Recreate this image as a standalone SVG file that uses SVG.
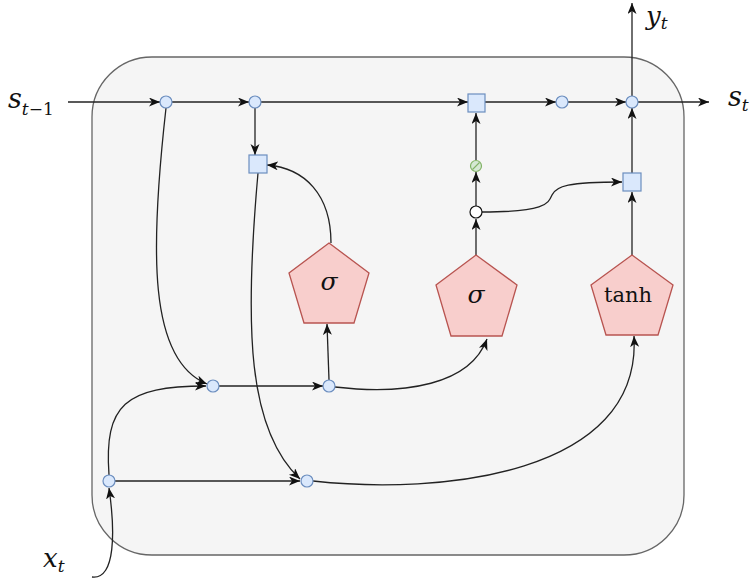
<svg xmlns="http://www.w3.org/2000/svg" width="753" height="581" viewBox="0 0 753 581">
  <defs>
    <marker id="arrow" markerUnits="userSpaceOnUse" markerWidth="13" markerHeight="11" refX="11" refY="4.5" orient="auto">
      <path d="M0,0 L11,4.5 L0,9 L3,4.5 z" fill="#111"/>
    </marker>
    <style>
      .cell { fill: #f5f5f5; stroke: #666; stroke-width: 1.3; }
      .dot { fill: #dae8fc; stroke: #6c8ebf; stroke-width: 1.2; }
      .sq { fill: #dae8fc; stroke: #6c8ebf; stroke-width: 1.2; }
      .null { fill: #d5e8d4; stroke: #82b366; stroke-width: 1.2; }
      .open { fill: #fff; stroke: #111; stroke-width: 1.2; }
      .gate { fill: #f8cecc; stroke: #b85450; stroke-width: 1.3; }
      .wire { fill: none; stroke: #222; stroke-width: 1.3; marker-end: url(#arrow); }
      .math { font-family: "DejaVu Serif", "Liberation Serif", serif; font-style: italic; fill: #111; }
      .fn { font-family: "DejaVu Serif", "Liberation Serif", serif; fill: #111; }
      .up { font-style: normal; }
    </style>
  </defs>

  <!-- cell boundary -->
  <rect id="cell" class="cell" x="92" y="57" width="592" height="498" rx="60" ry="60"/>

  <!-- connectors -->
  <g id="connectors">
    <path class="wire" d="M68,102 L160,102"/>
    <path class="wire" d="M172,102 L249,102"/>
    <path class="wire" d="M261,102 L468,102"/>
    <path class="wire" d="M485,102 L556,102"/>
    <path class="wire" d="M568,102 L626,102"/>
    <path class="wire" d="M638,102 L709,102"/>
    <path class="wire" d="M632,96 L632,3"/>
    <path class="wire" d="M255,108 L255,155"/>
    <path class="wire" d="M331,243 C331,195 305,168 267,165"/>
    <path class="wire" d="M258,173 C244,330 248,430 300,479"/>
    <path class="wire" d="M166,108 C150,250 148,360 207,384"/>
    <path class="wire" d="M109,475 C104,405 125,386 206,386"/>
    <path class="wire" d="M219,386 L323,386"/>
    <path class="wire" d="M329,380 L327,324"/>
    <path class="wire" d="M335,387 C405,395 470,385 487,339"/>
    <path class="wire" d="M115,481 L300,481"/>
    <path class="wire" d="M313,481 C440,495 642,475 634,336"/>
    <path class="wire" d="M92,577 C116,580 115,530 109,488"/>
    <path class="wire" d="M476,255 L476,219"/>
    <path class="wire" d="M476,206 L476,172"/>
    <path class="wire" d="M476,160 L476,113"/>
    <path class="wire" d="M482,212 C545,212 548,204 552,195 C556,186 568,182 622,182"/>
    <path class="wire" d="M632,255 L632,192"/>
    <path class="wire" d="M632,173 L632,108"/>
  </g>

  <!-- junction dots -->
  <g id="n-a"><circle class="dot" cx="166" cy="102" r="6"/></g>
  <g id="n-b"><circle class="dot" cx="255" cy="102" r="6"/></g>
  <g id="n-c"><circle class="dot" cx="562" cy="102" r="6"/></g>
  <g id="n-d"><circle class="dot" cx="632" cy="102" r="6"/></g>
  <g id="n-e"><circle class="dot" cx="213" cy="386" r="6"/></g>
  <g id="n-f"><circle class="dot" cx="329" cy="386" r="6"/></g>
  <g id="n-g"><circle class="dot" cx="109" cy="481" r="6"/></g>
  <g id="n-h"><circle class="dot" cx="307" cy="481" r="6"/></g>

  <!-- multiplication / combine boxes -->
  <g id="m-reset"><rect class="sq" x="249" y="155" width="18" height="18"/></g>
  <g id="m-keep"><rect class="sq" x="468" y="94" width="17" height="18"/></g>
  <g id="m-update"><rect class="sq" x="623" y="173" width="18" height="18"/></g>

  <!-- complement and split -->
  <g id="n-null">
    <circle class="null" cx="476" cy="166" r="5.5"/>
    <line x1="472.5" y1="169.5" x2="479.5" y2="162.5" stroke="#82b366" stroke-width="1.1"/>
  </g>
  <g id="n-split"><circle class="open" cx="476" cy="212" r="6"/></g>

  <!-- gates -->
  <g id="g-reset">
    <polygon class="gate" points="329,243 369,273 354,323 304,323 289,273"/>
    <text class="math" x="329" y="290" font-size="25" text-anchor="middle">σ</text>
  </g>
  <g id="g-update">
    <polygon class="gate" points="476,255 517,285 502,336 451,336 436,285"/>
    <text class="math" x="476" y="303" font-size="25" text-anchor="middle">σ</text>
  </g>
  <g id="g-cand">
    <polygon class="gate" points="632,255 673,285 658,335 606,335 591,285"/>
    <text class="fn" x="628" y="302" font-size="21" text-anchor="middle">tanh</text>
  </g>

  <!-- labels -->
  <g id="lbl-sprev">
    <text class="math" x="8" y="108" font-size="27">s<tspan font-size="17" dy="7">t<tspan class="up">−1</tspan></tspan></text>
  </g>
  <g id="lbl-x">
    <text class="math" x="43" y="567" font-size="26">x<tspan font-size="17" dy="5">t</tspan></text>
  </g>
  <g id="lbl-y">
    <text class="math" x="646" y="25" font-size="26">y<tspan font-size="17" dy="4">t</tspan></text>
  </g>
  <g id="lbl-s">
    <text class="math" x="728" y="106" font-size="27">s<tspan font-size="17" dy="5">t</tspan></text>
  </g>
</svg>
